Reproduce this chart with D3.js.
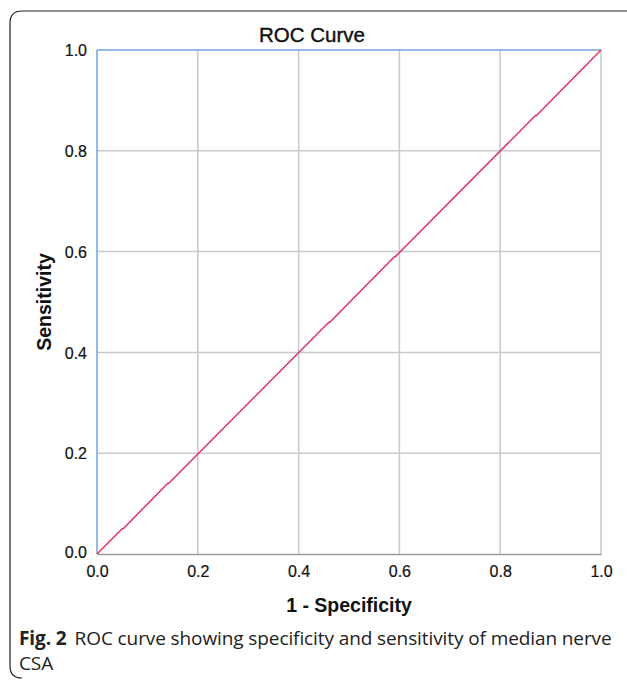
<!DOCTYPE html>
<html>
<head>
<meta charset="utf-8">
<script src="https://cdn.jsdelivr.net/npm/d3@7"></script>
<style>
  body { margin: 0; background: #fff; }
  svg { display: block; }
</style>
</head>
<body>
<div id="chart"></div>
<script>
// ROC points
const fpr = [0.0, 0.05, 0.052, 0.14, 0.142, 0.46, 0.462, 0.59, 0.592, 0.87, 0.872, 1.0];
const tpr = [0.0, 0.05, 0.05, 0.14, 0.14, 0.46, 0.46, 0.59, 0.59, 0.87, 0.87, 1.0];
const ticks = [0, 0.2, 0.4, 0.6, 0.8, 1.0];

const W = 627, H = 681;
const margin = { left: 97, top: 50, right: 26, bottom: 127 };
const width = W - margin.left - margin.right;
const height = H - margin.top - margin.bottom;
const sans = "Liberation Sans, Arial, sans-serif";

const svg = d3.select("#chart").append("svg")
  .attr("width", W)
  .attr("height", H);

// Outer figure frame (rounded left corners, open on the right)
svg.append("path")
  .attr("d", "M 627 11 L 22 11 Q 10 11 10 23 L 10 666 Q 10 678 22 678")
  .attr("fill", "none")
  .attr("stroke", "#222")
  .attr("stroke-width", 1.2);

const g = svg.append("g")
  .attr("transform", "translate(" + margin.left + "," + margin.top + ")");

const x = d3.scaleLinear().domain([0, 1]).range([0, width]);
const y = d3.scaleLinear().domain([0, 1]).range([height, 0]);

// Grid lines
g.append("g")
  .selectAll("line")
  .data(ticks.slice(1))
  .enter().append("line")
  .attr("x1", (d) => x(d)).attr("x2", (d) => x(d))
  .attr("y1", 0).attr("y2", height)
  .attr("stroke", "#c9c9c9")
  .attr("stroke-width", 1.5);

g.append("g")
  .selectAll("line")
  .data(ticks.slice(1, -1))
  .enter().append("line")
  .attr("x1", 0).attr("x2", width)
  .attr("y1", (d) => y(d)).attr("y2", (d) => y(d))
  .attr("stroke", "#c9c9c9")
  .attr("stroke-width", 1.5);

// Bottom axis
const xAxis = g.append("g")
  .attr("transform", "translate(0," + height + ")")
  .call(d3.axisBottom(x).tickValues(ticks).tickFormat(d3.format(".1f")).tickSize(0).tickPadding(12));
xAxis.select(".domain").attr("stroke", "#9a9a9a").attr("stroke-width", 1.5);
xAxis.selectAll("text")
  .attr("font-family", sans)
  .attr("font-size", 16)
  .attr("fill", "#111")
  .attr("stroke", "#111")
  .attr("stroke-width", 0.2);

// Left axis
const yAxis = g.append("g")
  .call(d3.axisLeft(y).tickValues(ticks).tickFormat(d3.format(".1f")).tickSize(0).tickPadding(10));
yAxis.select(".domain").remove();
yAxis.selectAll("text")
  .attr("font-family", sans)
  .attr("font-size", 16)
  .attr("fill", "#111")
  .attr("stroke", "#111")
  .attr("stroke-width", 0.2)
  .attr("dy", (d) => d === 0 ? "0.2em" : "0.36em");

// Blue top and left border
g.append("line")
  .attr("x1", 0).attr("x2", width).attr("y1", 0).attr("y2", 0)
  .attr("stroke", "#74a2e0").attr("stroke-width", 1.5);
g.append("line")
  .attr("x1", 0).attr("x2", 0).attr("y1", 0).attr("y2", height)
  .attr("stroke", "#74a2e0").attr("stroke-width", 1.5);

// ROC line
const line = d3.line()
  .x((d, i) => x(fpr[i]))
  .y((d, i) => y(tpr[i]));

g.append("path")
  .datum(fpr)
  .attr("d", line)
  .attr("fill", "none")
  .attr("stroke", "#e0335f")
  .attr("stroke-width", 1.5);

// Title
svg.append("text")
  .attr("x", 312)
  .attr("y", 42)
  .attr("text-anchor", "middle")
  .attr("font-family", sans)
  .attr("font-size", 20.5)
  .attr("fill", "#111")
  .attr("stroke", "#111")
  .attr("stroke-width", 0.4)
  .text("ROC Curve");

// Axis titles
g.append("text")
  .attr("x", width / 2)
  .attr("y", height + 58)
  .attr("text-anchor", "middle")
  .attr("font-family", sans)
  .attr("font-weight", "bold")
  .attr("font-size", 19.5)
  .attr("fill", "#111")
  .text("1 - Specificity");

g.append("text")
  .attr("transform", "rotate(-90)")
  .attr("x", -height / 2)
  .attr("y", -46)
  .attr("text-anchor", "middle")
  .attr("font-family", sans)
  .attr("font-weight", "bold")
  .attr("font-size", 19.5)
  .attr("fill", "#111")
  .text("Sensitivity");

// Caption
const cap = svg.append("text")
  .attr("x", 19)
  .attr("y", 645)
  .attr("font-family", "Open Sans, Noto Sans, sans-serif")
  .attr("font-size", 19)
  .attr("letter-spacing", -0.1)
  .attr("fill", "#222");
cap.append("tspan").attr("font-weight", "bold").text("Fig. 2");
cap.append("tspan").attr("dx", 8).text("ROC curve showing specificity and sensitivity of median nerve");
svg.append("text")
  .attr("x", 19)
  .attr("y", 670)
  .attr("font-family", "Open Sans, Noto Sans, sans-serif")
  .attr("font-size", 19)
  .attr("letter-spacing", -0.1)
  .attr("fill", "#222")
  .text("CSA");
</script>
</body>
</html>
